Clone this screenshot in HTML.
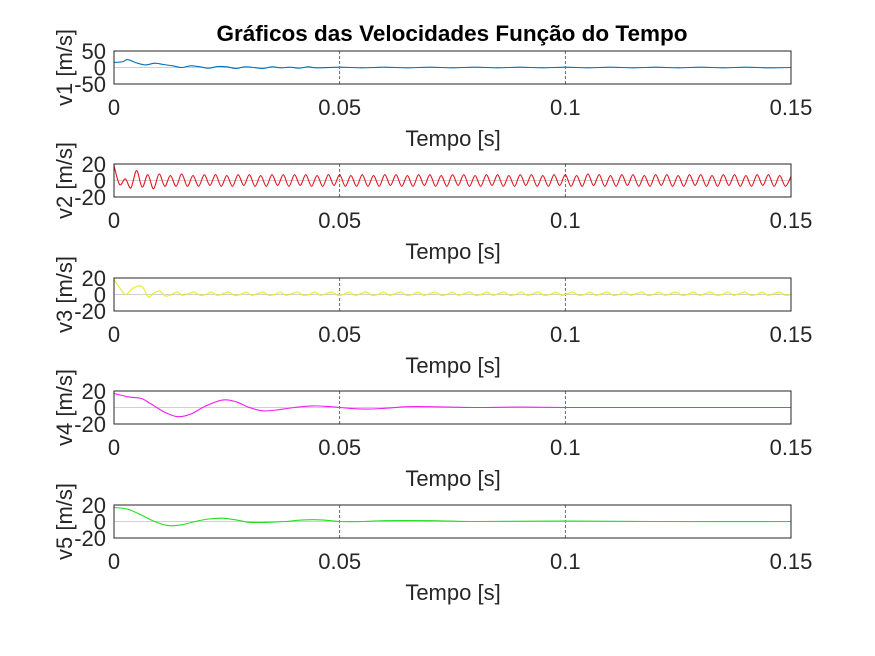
<!DOCTYPE html>
<html><head><meta charset="utf-8"><style>
html,body{margin:0;padding:0;background:#fff;}
svg{display:block;font-family:"Liberation Sans",Arial,sans-serif;}
</style></head><body>
<svg id="fig" width="875" height="656" viewBox="0 0 875 656">
<rect width="875" height="656" fill="#fff"/>
<text x="452" y="41" text-anchor="middle" font-size="22.5" font-weight="bold" fill="#000">Gráficos das Velocidades Função do Tempo</text>
</svg>
<script>
const xTicks=[0,0.05,0.1,0.15];
const xTickLabels=["0","0.05","0.1","0.15"];
const v1Ticks=[-50,0,50];
const v1TickLabels=["-50","0","50"];
const vTicks=[-20,0,20];
const vTickLabels=["-20","0","20"];
const seriesNames=["v1","v2","v3","v4","v5"];
const v1Time=[0,0.002,0.003,0.005,0.007,0.009,0.011,0.013,0.015,0.017,0.019,0.021,0.023,0.025,0.027,0.029,0.031,0.033,0.035,0.037,0.039,0.041,0.043,0.045,0.05,0.055,0.06,0.065,0.07,0.075,0.08,0.085,0.09,0.095,0.1,0.105,0.11,0.115,0.12,0.125,0.13,0.135,0.14,0.145,0.15];
const v1Vals=[15,18,24,14,8,13,9,5,0,5,2,-2,3,2,-3,2,0,-3,2,-1,1,-2,2,-1,1,-1,1,-1,1,-1,1,-1,1,-1,1,-1,1,-1,1,-1,1,-1,1,-1,0];
const v2Vals=[18,-5,2,-9,12,-8,7,-10,8,-7,6,-7,8,-7,6,-7,7,-6,7,-7,6,-7,7,-6,7,-7,6,-7,7,-6,7,-7,7,-6,7,-7,6,-7,7,-6,7,-7,6,-7,7,-7,6,-7,7,-6,7,-7,6,-7,7,-6,7,-7,6,-7,7,-6,7,-7,6,-7,7,-6,7,-7,6,-7,7,-6,7,-7,6,-7,7,-6,7,-7,6,-7,8,-6,7,-7,6,-7,7,-6,7,-7,6,-7,7,-6,7,-7,6,-7,7,-6,7,-7,6,-7,7,-6,7,-7,6,-7,7,-6,7,-7,6,-7,5];
const v3Vals=[18,8,0,6,10,9,-3,2,4,-2,0,3,-1,1,3,-1,0,3,-1,1,3,-1,0,3,-1,1,3,-1,0,3,-1,1,3,-1,0,3,-1,1,3,-1,0,3,-1,1,3,-1,0,3,-1,1,3,-1,0,3,-1,1,3,-1,0,3,-1,1,3,-1,0,3,-1,1,3,-1,0,3,-1,1,3,-1,0,3,-1,1,3,-1,0,3,-1,1,3,-1,0,3,-1,1,3,-1,0,3,-1,1,3,-1,0,3,-1,1,3,-1,0,3,-1,1,3,-1,0,3,-1,1,3,-1,0];
const v4Time=[0,0.003,0.006,0.008,0.011,0.014,0.017,0.020,0.024,0.027,0.030,0.033,0.036,0.040,0.044,0.048,0.052,0.056,0.060,0.065,0.070,0.080,0.090,0.10,0.12,0.15];
const v4Vals=[17,13,11,5,-5,-11,-8,1,9,7,0,-4,-3,0,2,1,-1,-2,-1,1,1,0,0.5,0,0,0];
const v5Time=[0,0.003,0.006,0.009,0.012,0.015,0.018,0.021,0.024,0.027,0.030,0.034,0.038,0.042,0.046,0.050,0.055,0.060,0.070,0.080,0.10,0.12,0.15];
const v5Vals=[17,15,8,0,-5,-4,0,3,4,2,-1,-1,0,2,2,0,0,1,1,0,0.5,0,0];
const colors=["#0072BD","#e8111e","#eaea2a","#f020f0","#22dd22"];
const NS="http://www.w3.org/2000/svg";
const svg=document.getElementById('fig');
const X0=114,X1=791,H=33,tops=[51,164,278,391,505];
const FS=22;
function mk(tag,attrs,parent){const e=document.createElementNS(NS,tag);for(const k in attrs)e.setAttribute(k,attrs[k]);(parent||svg).appendChild(e);return e;}
function xs(t){return X0+(t-0)/(0.15-0)*(X1-X0);}
function uniformTime(n){const a=[];for(let i=0;i<n;i++)a.push(0.15*i/(n-1));return a;}
function smoothPath(P){let d='M'+P[0][0].toFixed(1)+','+P[0][1].toFixed(1);for(let i=0;i<P.length-1;i++){const p0=P[i-1]||P[i],p1=P[i],p2=P[i+1],p3=P[i+2]||p2;const c1=[p1[0]+(p2[0]-p0[0])/6,p1[1]+(p2[1]-p0[1])/6],c2=[p2[0]-(p3[0]-p1[0])/6,p2[1]-(p3[1]-p1[1])/6];d+='C'+c1[0].toFixed(1)+','+c1[1].toFixed(1)+' '+c2[0].toFixed(1)+','+c2[1].toFixed(1)+' '+p2[0].toFixed(1)+','+p2[1].toFixed(1);}return d;}
const allTimes=[v1Time,uniformTime(v2Vals.length),uniformTime(v3Vals.length),v4Time,v5Time];
const allVals=[v1Vals,v2Vals,v3Vals,v4Vals,v5Vals];
for(let p=0;p<5;p++){
  const top=tops[p],bot=top+H;
  const yt=p===0?v1Ticks:vTicks, ytl=p===0?v1TickLabels:vTickLabels;
  const ymin=yt[0],ymax=yt[yt.length-1];
  const ys=v=>bot-(v-ymin)/(ymax-ymin)*H;
  const g=mk('g',{});
  
  
  xTicks.forEach((t,i)=>{if(i>0&&i<xTicks.length-1){const l=mk('line',{x1:xs(t),x2:xs(t),y1:top,y2:bot,stroke:'#444','stroke-dasharray':'3,2','stroke-width':0.8},g);}});
  const zl=mk('line',{x1:X0,x2:X1,y1:ys(0),y2:ys(0),stroke:'#d0d0d0','stroke-width':1},g);
  
  
  const tt=allTimes[p],vv=allVals[p];
  const P=vv.map((v,i)=>[xs(tt[i]),ys(v)]);
  const pl=mk('path',{d:smoothPath(P),fill:'none',stroke:colors[p],'stroke-width':1.1,'stroke-linejoin':'round'},g);
  
  
  const bx=mk('rect',{x:X0,y:top,width:X1-X0,height:H,fill:'none',stroke:'#262626','stroke-width':1},g);
  
  
  yt.forEach((v,i)=>{const tx=mk('text',{x:X0-8,y:ys(v)+8,'text-anchor':'end','font-size':FS,fill:'#262626'},g);tx.textContent=ytl[i];});
  xTicks.forEach((t,i)=>{const tx=mk('text',{x:xs(t),y:bot+31,'text-anchor':'middle','font-size':FS,fill:'#262626'},g);tx.textContent=xTickLabels[i];});
  const xl=mk('text',{x:453,y:bot+62,'text-anchor':'middle','font-size':FS,fill:'#262626'},g);
  xl.textContent='Tempo [s]';
  
  
  const cy=top+H/2;
  const yl=mk('text',{x:0,y:0,'text-anchor':'middle','font-size':FS,fill:'#262626',transform:'translate(72,'+cy+') rotate(-90)'},g);
  yl.textContent=seriesNames[p]+' [m/s]';
  
  
}
</script>
</body></html>
